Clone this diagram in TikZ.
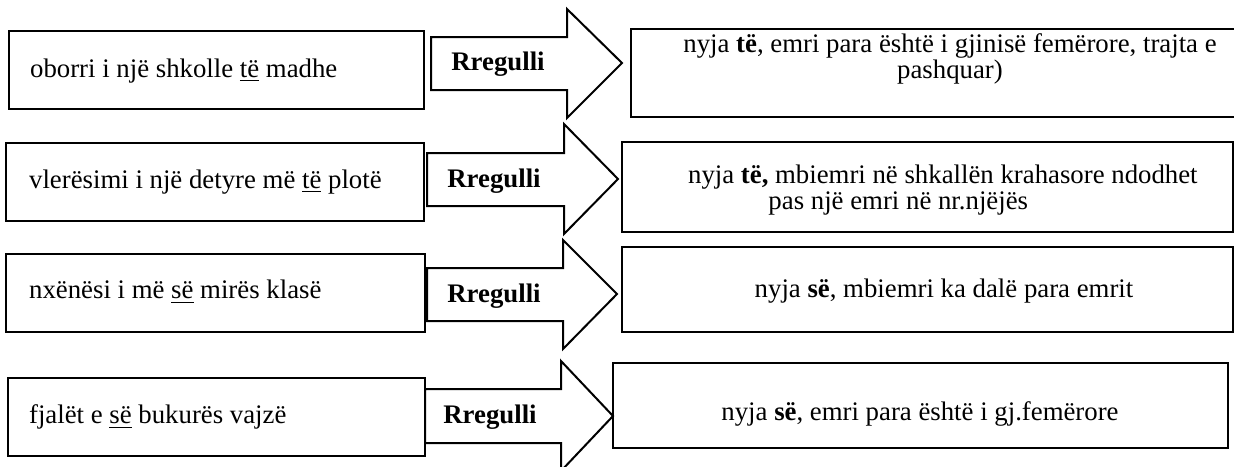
\documentclass[tikz,border=0pt]{standalone}
\usepackage{fontspec}
\setmainfont{Liberation Serif}
\usetikzlibrary{positioning,fit}

\begin{document}
\begin{tikzpicture}[x=0.448pt, y=-0.448pt, line width=1pt,
        box/.style={draw, rectangle, inner sep=0pt, line width=1.1pt},
        phrase/.style={anchor=west, inner sep=0pt, font=\fontsize{12}{11.7}\selectfont},
        note/.style={inner sep=0pt, font=\fontsize{12}{11.7}\selectfont},
        rulename/.style={inner sep=0pt, font=\fontsize{12}{11.7}\selectfont\bfseries},
        bigarrow/.style={draw, line width=0.9pt, line join=miter}]
        \useasboundingbox (0,0) rectangle (1234,466);

        % example phrases
        \node (ex1) [box, fit={(9,31) (424,109)}] {};
        \node (ex2) [box, fit={(6,143) (424,221)}] {};
        \node (ex3) [box, fit={(6,254) (425,332)}] {};
        \node (ex4) [box, fit={(8,378) (425,456)}] {};
        \node (p1) [phrase] at (29,71) {oborri i një shkolle \underline{të} madhe};
        \node (p2) [phrase] at (28,182) {vlerësimi i një detyre më \underline{të} plotë};
        \node (p3) [phrase] at (28,292) {nxënësi i më \underline{së} mirës klasë};
        \node (p4) [phrase] at (28,417) {fjalët e \underline{së} bukurës vajzë};

        % explanations
        \node (ru1) [box, fit={(631,29) (1237,117)}] {};
        \node (ru2) [box, fit={(622,142) (1233,232)}] {};
        \node (ru3) [box, fit={(622,247) (1233,332)}] {};
        \node (ru4) [box, fit={(613,363) (1228,448)}] {};
        \node (n1) [note, align=center] at (950,59) {nyja \textbf{të}, emri para është i gjinisë femërore, trajta e\\pashquar)};
        \node (n2) [note, align=left, anchor=west] at (687,190) {nyja \textbf{të,} mbiemri në shkallën krahasore ndodhet\\\hspace*{36pt}pas një emri në nr.njëjës};
        \node (n3) [note] at (944,291) {nyja \textbf{së}, mbiemri ka dalë para emrit};
        \node (n4) [note] at (920,414) {nyja \textbf{së}, emri para është i gj.femërore};

        % block arrows
        \draw[bigarrow] (431,37) -- (567,37) -- (567,9) -- (622,63) -- (567,118) -- (567,90) -- (431,90) -- cycle;
        \draw[bigarrow] (427,153) -- (564,153) -- (564,124) -- (618,179) -- (564,234) -- (564,206) -- (427,206) -- cycle;
        \draw[bigarrow] (427,268) -- (563,268) -- (563,240) -- (617,294) -- (563,349) -- (563,321) -- (427,321) -- cycle;
        \draw[bigarrow] (425,389) -- (561,389) -- (561,361) -- (613,416) -- (561,471) -- (561,443) -- (425,443) -- cycle;
        \node (r1) [rulename] at (498,64) {Rregulli};
        \node (r2) [rulename] at (494,181) {Rregulli};
        \node (r3) [rulename] at (494,296) {Rregulli};
        \node (r4) [rulename] at (490,417) {Rregulli};
    \end{tikzpicture}
\end{document}
